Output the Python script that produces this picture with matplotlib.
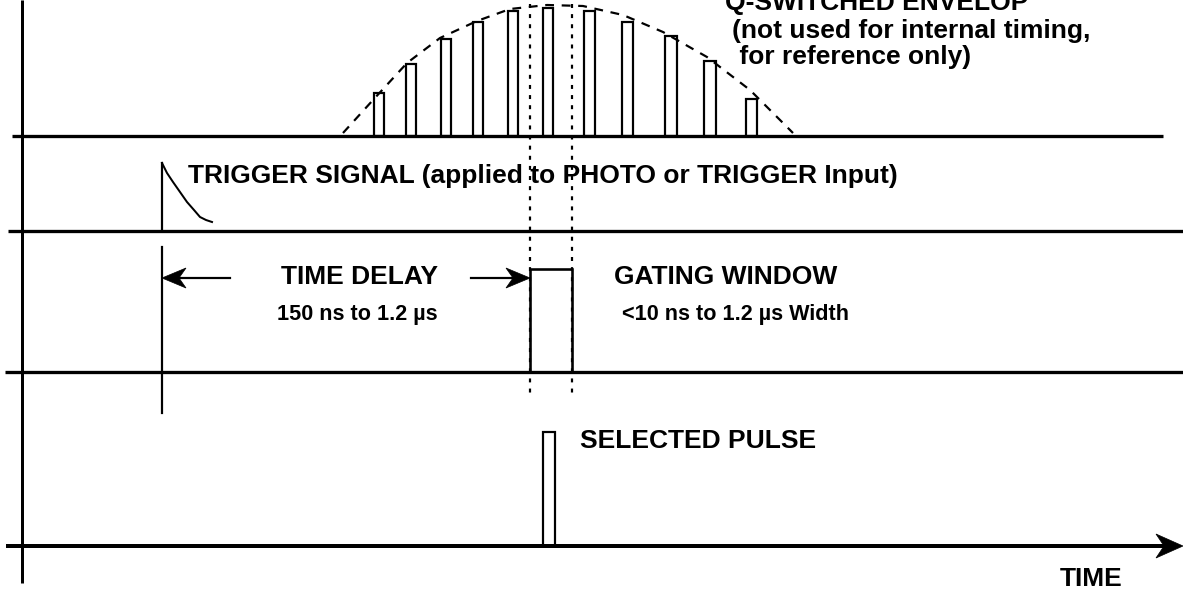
import matplotlib
matplotlib.use("Agg")
import matplotlib.pyplot as plt
from matplotlib.patches import Rectangle, Polygon

# diagram drawn in picture pixels (x right, y down)
W, H = 1183, 590

# Q-switched pulse train: centre x, top y, width
pulse_x = [379, 411, 446, 478, 513, 548, 590, 628, 671, 710, 752]
pulse_top = [93, 64, 39, 22, 11, 8, 11, 22, 36, 61, 99]
pulse_w = [10, 10, 10, 10, 10, 10, 11, 11, 12, 12, 11]

# dashed envelope
env_x = [343, 373, 407, 440, 477, 510, 547, 583, 623, 663, 707, 750, 793]
env_y = [133, 100, 63, 38, 21, 9, 5, 6, 15, 32, 57, 90, 133]

# trigger decay curve
trig_x = [162, 167, 173, 180, 187, 194, 200, 206, 212]
trig_y = [163, 173, 182, 192, 202, 210, 217, 220, 222]

# horizontal rails: y, x start, x end
rail_y = [136, 231, 372]
rail_x0 = [12, 8, 5]
rail_x1 = [1163, 1183, 1183]
time_axis_y = 546

# gate window and selected pulse
gate = (530, 572, 269)      # left, right, top
sel = (543, 555, 432)       # left, right, top
dotted_x = [530, 572]

labels = [
    ("Q-SWITCHED ENVELOP", 725, 10, 19),
    ("(not used for internal timing,", 732, 38, 19),
    (" for reference only)", 732, 64, 19),
    ("TRIGGER SIGNAL (applied to PHOTO or TRIGGER Input)", 188, 183, 19),
    ("TIME DELAY", 281, 284, 19),
    ("150 ns to 1.2 \u00b5s", 277, 320, 15.6),
    ("GATING WINDOW", 614, 284, 19),
    ("<10 ns to 1.2 \u00b5s Width", 622, 320, 15.6),
    ("SELECTED PULSE", 580, 448, 19),
    ("TIME", 1060, 586, 19),
]

PX = 0.72  # points per pixel at dpi 100

fig = plt.figure(figsize=(W / 100, H / 100), dpi=100)
ax = fig.add_axes([0, 0, 1, 1])
ax.set_xlim(0, W)
ax.set_ylim(H, 0)
ax.axis("off")


def head(tip_x, y, direction, length, half, notch):
    # stealth style arrow head
    b = tip_x - direction * length
    n = tip_x - direction * (length - notch)
    ax.add_patch(Polygon([(tip_x, y), (b, y - half), (n, y), (b, y + half)],
                         closed=True, fc="black", ec="black", lw=0.5))


# vertical axis
ax.plot([22, 22], [0, 583], color="black", lw=3 * PX, solid_capstyle="butt")

# rails
for y, x0, x1 in zip(rail_y, rail_x0, rail_x1):
    ax.plot([x0, x1], [y, y], color="black", lw=3.3 * PX, solid_capstyle="butt")

# time axis with arrow
ax.plot([6, 1165], [time_axis_y, time_axis_y], color="black", lw=4 * PX,
        solid_capstyle="butt")
head(1183, time_axis_y, 1, 27, 12, 8)

# pulses
for cx, top, w in zip(pulse_x, pulse_top, pulse_w):
    ax.add_patch(Rectangle((cx - w / 2, top), w, rail_y[0] - top, fill=False,
                           ec="black", lw=2.2 * PX))

# envelope
ax.plot(env_x, env_y, color="black", lw=2.2 * PX, linestyle=(0, (4, 3.5)))

# dotted verticals
for x in dotted_x:
    ax.plot([x, x], [4, 396], color="black", lw=2.2 * PX, linestyle=(0, (1.8, 2.8)))

# trigger signal
ax.plot([162, 162], [163, rail_y[1]], color="black", lw=2.2 * PX)
ax.plot(trig_x, trig_y, color="black", lw=2 * PX)

# delay marker and arrows
ax.plot([162, 162], [247, 413], color="black", lw=2.2 * PX)
ax.plot([180, 230], [278, 278], color="black", lw=2.2 * PX)
head(162, 278, -1, 24, 10, 7)
ax.plot([471, 512], [278, 278], color="black", lw=2.2 * PX)
head(530, 278, 1, 24, 10, 7)

# gating window
ax.add_patch(Rectangle((gate[0], gate[2]), gate[1] - gate[0], rail_y[2] - gate[2],
                       fill=False, ec="black", lw=2.6 * PX))

# selected pulse
ax.add_patch(Rectangle((sel[0], sel[2]), sel[1] - sel[0], time_axis_y - sel[2],
                       fill=False, ec="black", lw=2.2 * PX))

for txt, x, y, size in labels:
    ax.text(x, y, txt, fontsize=size, fontweight="bold", family="Liberation Sans",
            ha="left", va="baseline", color="black")

fig.savefig("out.png", dpi=100, facecolor="white")
